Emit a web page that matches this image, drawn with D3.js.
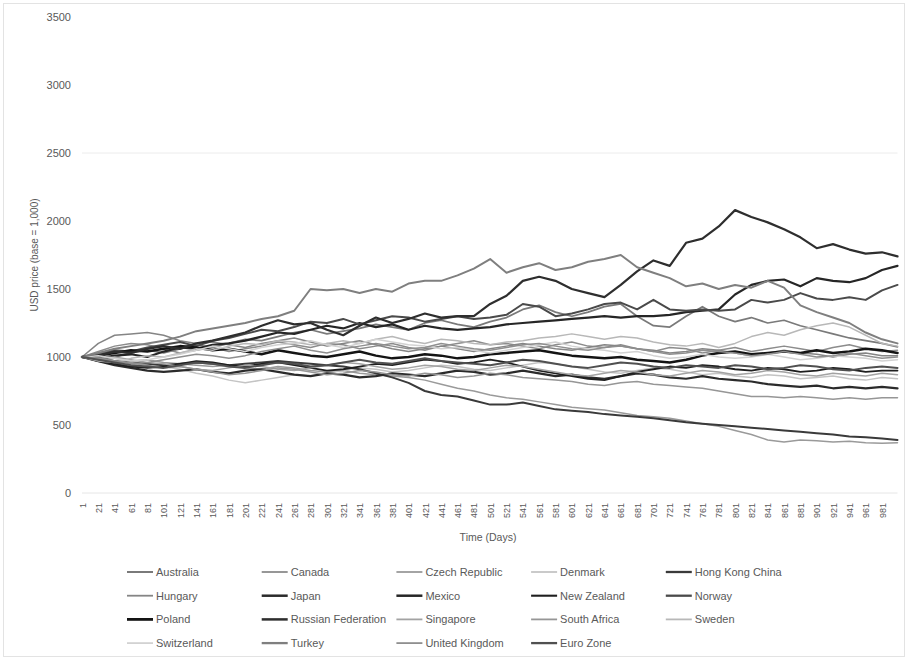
<!DOCTYPE html>
<html>
<head>
<meta charset="utf-8">
<script src="https://cdn.jsdelivr.net/npm/d3@7"></script>
<style>
  body { margin: 0; background: #fff; }
  svg { display: block; font-family: "Liberation Sans", Arial, sans-serif; }
</style>
</head>
<body>
<svg id="chart" width="908" height="660"></svg>
<script>
// Sampled trading days (every 20th day, plus the last day)
const days = [1,21,41,61,81,101,121,141,161,181,201,221,241,261,281,301,321,341,361,381,
  401,421,441,461,481,501,521,541,561,581,601,621,641,661,681,701,721,741,761,781,
  801,821,841,861,881,901,921,941,961,981,1000];

const countries = ["Australia","Canada","Czech Republic","Denmark","Hong Kong China",
  "Hungary","Japan","Mexico","New Zealand","Norway",
  "Poland","Russian Federation","Singapore","South Africa","Sweden",
  "Switzerland","Turkey","United Kingdom","Euro Zone"];

// USD price per currency, base = 1,000
const australia = [1000,980,1000,1030,1050,1030,1060,1090,1070,1100,1130,1120,1150,1180,1200,1170,1190,1210,1240,1220,
  1200,1250,1270,1240,1220,1260,1290,1350,1380,1330,1300,1330,1370,1390,1300,1230,1220,1300,1370,1300,
  1260,1290,1250,1270,1230,1200,1170,1140,1120,1100,1075];
const canada = [1000,1040,1080,1100,1090,1060,1030,1050,1070,1040,1060,1080,1110,1090,1070,1100,1090,1060,1080,1100,
  1070,1050,1080,1100,1120,1090,1100,1080,1060,1090,1110,1080,1070,1090,1060,1040,1070,1060,1030,1050,
  1070,1040,1060,1080,1060,1040,1070,1090,1060,1040,1050];
const czechRepublic = [1000,1010,990,970,980,960,950,940,930,940,920,910,930,920,900,890,900,880,870,860,
  850,830,800,770,750,720,700,690,670,650,630,620,610,590,570,560,550,530,510,490,
  460,430,390,375,390,385,375,380,370,365,370];
const denmark = [1000,980,960,940,950,930,910,880,860,830,810,830,850,870,860,880,900,920,910,890,
  900,920,940,930,910,900,920,940,960,950,930,910,890,880,900,920,910,890,870,880,
  860,850,870,860,840,850,860,840,830,850,840];
const hongKongChina = [1000,990,970,960,950,940,950,960,950,940,950,960,970,960,950,940,930,910,880,850,
  810,750,720,710,680,650,650,665,640,615,605,595,580,570,560,550,535,520,510,500,
  490,480,470,460,450,440,430,415,410,400,390];
const hungary = [1000,1100,1160,1170,1180,1160,1120,1100,1110,1090,1070,1100,1120,1140,1110,1080,1100,1120,1090,1060,
  1040,1060,1080,1060,1040,1060,1080,1100,1080,1060,1050,1070,1090,1080,1060,1050,1030,1040,1060,1050,
  1030,1010,1030,1050,1030,1020,1000,1020,1030,1010,1010];
const japan = [1000,970,940,920,900,890,900,910,890,880,900,910,890,870,860,880,870,850,860,880,
  870,860,880,900,890,870,880,900,880,860,870,850,840,860,880,870,850,840,860,840,
  830,820,800,790,780,790,770,780,770,780,770];
const mexico = [1000,990,1010,1020,1000,1040,1070,1060,1090,1100,1120,1150,1180,1170,1200,1230,1210,1250,1220,1240,
  1200,1230,1210,1200,1210,1220,1240,1250,1260,1270,1280,1290,1300,1290,1300,1300,1310,1330,1340,1350,
  1460,1530,1560,1570,1520,1580,1560,1550,1580,1640,1670];
const newZealand = [1000,970,950,930,920,930,950,970,960,940,930,950,960,940,920,900,910,930,950,940,
  960,980,970,950,960,980,960,930,900,880,860,840,830,860,890,910,930,920,940,930,
  910,900,920,910,890,900,920,910,890,900,900];
const norway = [1000,1020,1050,1040,1070,1090,1110,1080,1120,1140,1170,1200,1190,1220,1260,1250,1280,1240,1270,1300,
  1290,1260,1280,1300,1280,1290,1310,1390,1370,1300,1320,1350,1390,1400,1350,1420,1350,1340,1350,1340,
  1350,1420,1400,1420,1470,1430,1420,1440,1420,1490,1530];
const poland = [1000,1010,1030,1050,1040,1060,1080,1070,1050,1060,1040,1020,1050,1030,1010,1000,1020,1040,1010,990,
  1000,1020,1010,990,1000,1020,1030,1040,1050,1030,1010,1000,990,1000,980,970,960,980,1010,1030,
  1040,1020,1030,1040,1030,1050,1030,1040,1060,1050,1030];
const russianFederation = [1000,1010,1040,1030,1060,1080,1060,1100,1120,1150,1180,1230,1270,1240,1250,1200,1160,1230,1290,1250,
  1280,1320,1290,1300,1300,1390,1450,1560,1590,1560,1500,1470,1440,1530,1630,1710,1670,1840,1870,1960,
  2080,2030,1990,1940,1880,1800,1830,1790,1760,1770,1740];
const singapore = [1000,990,1000,980,960,950,930,910,900,920,940,930,910,900,920,940,960,950,930,910,
  920,940,930,910,900,920,940,930,910,890,870,860,880,900,890,870,860,880,900,890,
  870,880,900,890,870,860,880,870,860,880,870];
const southAfrica = [1000,990,970,960,940,920,930,910,890,870,880,900,920,910,890,870,880,900,890,870,
  860,880,870,850,860,880,870,850,840,830,820,800,790,810,820,800,790,780,770,750,
  730,710,710,700,710,700,690,700,690,700,700];
const sweden = [1000,970,960,990,1010,1000,1030,1060,1050,1080,1100,1090,1120,1110,1090,1100,1120,1100,1130,1150,
  1120,1100,1130,1120,1100,1090,1110,1120,1140,1150,1170,1150,1130,1150,1140,1110,1090,1080,1100,1070,
  1100,1150,1180,1160,1200,1230,1250,1220,1160,1100,1080];
const switzerland = [1000,1010,990,970,980,1000,1020,1050,1080,1060,1040,1070,1090,1100,1120,1090,1070,1100,1130,1110,
  1090,1080,1060,1070,1050,1030,1050,1070,1090,1110,1080,1060,1050,1030,1040,1010,990,1000,1020,1000,
  990,1000,1020,1000,980,990,1010,1000,990,970,980];
const turkey = [1000,1030,1060,1080,1100,1120,1150,1190,1210,1230,1250,1280,1300,1340,1500,1490,1500,1470,1500,1480,
  1540,1560,1560,1600,1650,1720,1620,1660,1690,1640,1660,1700,1720,1750,1660,1620,1580,1520,1540,1500,
  1530,1510,1560,1510,1380,1330,1290,1250,1180,1130,1100];
const unitedKingdom = [1000,990,970,950,960,980,1000,1020,1010,990,1010,1040,1060,1080,1050,1030,1060,1080,1100,1080,
  1060,1070,1100,1080,1060,1050,1070,1090,1100,1080,1060,1050,1070,1080,1060,1040,1020,1030,1050,1040,
  1030,1010,1020,1040,1020,1000,1010,1030,1010,990,1000];
const euroZone = [1000,980,960,940,930,920,940,960,950,930,920,940,960,950,930,940,960,980,960,950,
  970,990,970,960,950,940,960,980,970,950,930,920,940,960,950,930,920,940,930,920,
  940,930,910,920,940,930,910,900,920,930,920];

const seriesValues = [australia, canada, czechRepublic, denmark, hongKongChina,
  hungary, japan, mexico, newZealand, norway,
  poland, russianFederation, singapore, southAfrica, sweden,
  switzerland, turkey, unitedKingdom, euroZone];

const yTicks = [0, 500, 1000, 1500, 2000, 2500, 3000, 3500];
const xTicks = d3.range(1, 1000, 20);   // 1, 21, ... 981
const gridValues = [2500];

// Line styles per country: [stroke colour, stroke width]
const styles = {
  "Australia": ["#7a7a7a", 1.7],
  "Canada": ["#8c8c8c", 1.5],
  "Czech Republic": ["#9a9a9a", 1.5],
  "Denmark": ["#c4c4c4", 1.5],
  "Hong Kong China": ["#3a3a3a", 2],
  "Hungary": ["#858585", 1.5],
  "Japan": ["#2b2b2b", 2.2],
  "Mexico": ["#262626", 2.2],
  "New Zealand": ["#1f1f1f", 1.8],
  "Norway": ["#4a4a4a", 2],
  "Poland": ["#141414", 2.5],
  "Russian Federation": ["#2e2e2e", 2.2],
  "Singapore": ["#a3a3a3", 1.5],
  "South Africa": ["#969696", 1.5],
  "Sweden": ["#b8b8b8", 1.5],
  "Switzerland": ["#d2d2d2", 1.5],
  "Turkey": ["#7f7f7f", 2],
  "United Kingdom": ["#8f8f8f", 1.5],
  "Euro Zone": ["#505050", 2]
};

const svg = d3.select("#chart");
const textColor = "#595959";

// chart frame
svg.append("rect")
  .attr("x", 3.5).attr("y", 3.5)
  .attr("width", 901).attr("height", 653)
  .attr("fill", "#fff")
  .attr("stroke", "#e3e3e3");

const x = d3.scaleLinear().domain([1, 1000]).range([82, 897.5]);
const y = d3.scaleLinear().domain([0, 3500]).range([493, 17]);

// horizontal gridlines
svg.append("g").selectAll("line")
  .data(gridValues)
  .join("line")
  .attr("x1", x(1)).attr("x2", x(1000))
  .attr("y1", d => y(d)).attr("y2", d => y(d))
  .attr("stroke", "#ececec");

// category axis baseline
svg.append("line")
  .attr("x1", x(1)).attr("x2", x(1000))
  .attr("y1", y(0)).attr("y2", y(0))
  .attr("stroke", "#e6e6e6");

// value axis
const yAxis = svg.append("g")
  .attr("transform", `translate(${x(1)},0)`)
  .call(d3.axisLeft(y).tickValues(yTicks).tickFormat(d3.format("d")).tickSize(0).tickPadding(11));
yAxis.select(".domain").remove();
yAxis.selectAll("text")
  .attr("fill", textColor)
  .style("font-size", "11px")
  .style("font-family", "'Liberation Sans', Arial, sans-serif");

// time axis with vertical labels
const xAxis = svg.append("g")
  .attr("transform", `translate(0,${y(0)})`)
  .call(d3.axisBottom(x).tickValues(xTicks).tickFormat(d3.format("d")).tickSize(0));
xAxis.select(".domain").remove();
xAxis.selectAll("text")
  .attr("x", 0).attr("y", 0).attr("dy", "0.35em")
  .attr("transform", "translate(0,10) rotate(-90)")
  .attr("text-anchor", "end")
  .attr("fill", textColor)
  .style("font-size", "9px")
  .style("font-family", "'Liberation Sans', Arial, sans-serif");

// axis titles
svg.append("text")
  .attr("transform", "translate(34,255) rotate(-90)")
  .attr("text-anchor", "middle")
  .attr("dy", "0.35em")
  .attr("fill", textColor)
  .style("font-size", "10px")
  .text("USD price (base = 1,000)");

svg.append("text")
  .attr("x", 488).attr("y", 537)
  .attr("text-anchor", "middle")
  .attr("dy", "0.35em")
  .attr("fill", textColor)
  .style("font-size", "10.5px")
  .text("Time (Days)");

// series lines, drawn in legend order
const line = d3.line()
  .x((d, i) => x(days[i]))
  .y(d => y(d));

svg.append("g").selectAll("path")
  .data(countries.map((c, i) => ({ name: c, values: seriesValues[i] })))
  .join("path")
  .attr("d", d => line(d.values))
  .attr("fill", "none")
  .attr("stroke", d => styles[d.name][0])
  .attr("stroke-width", d => styles[d.name][1])
  .attr("stroke-linejoin", "round")
  .attr("stroke-linecap", "round");

// legend: five columns, four rows
const legend = svg.append("g").selectAll("g")
  .data(countries)
  .join("g")
  .attr("transform", (d, i) => `translate(${127 + (i % 5) * 134.7},${572 + Math.floor(i / 5) * 23.7})`);

legend.append("line")
  .attr("x1", 0).attr("x2", 26)
  .attr("y1", 0).attr("y2", 0)
  .attr("stroke", d => styles[d][0])
  .attr("stroke-width", d => styles[d][1] + 0.3);

legend.append("text")
  .attr("x", 29).attr("y", 0).attr("dy", "0.35em")
  .attr("fill", textColor)
  .style("font-size", "11px")
  .text(d => d);
</script>
</body>
</html>
